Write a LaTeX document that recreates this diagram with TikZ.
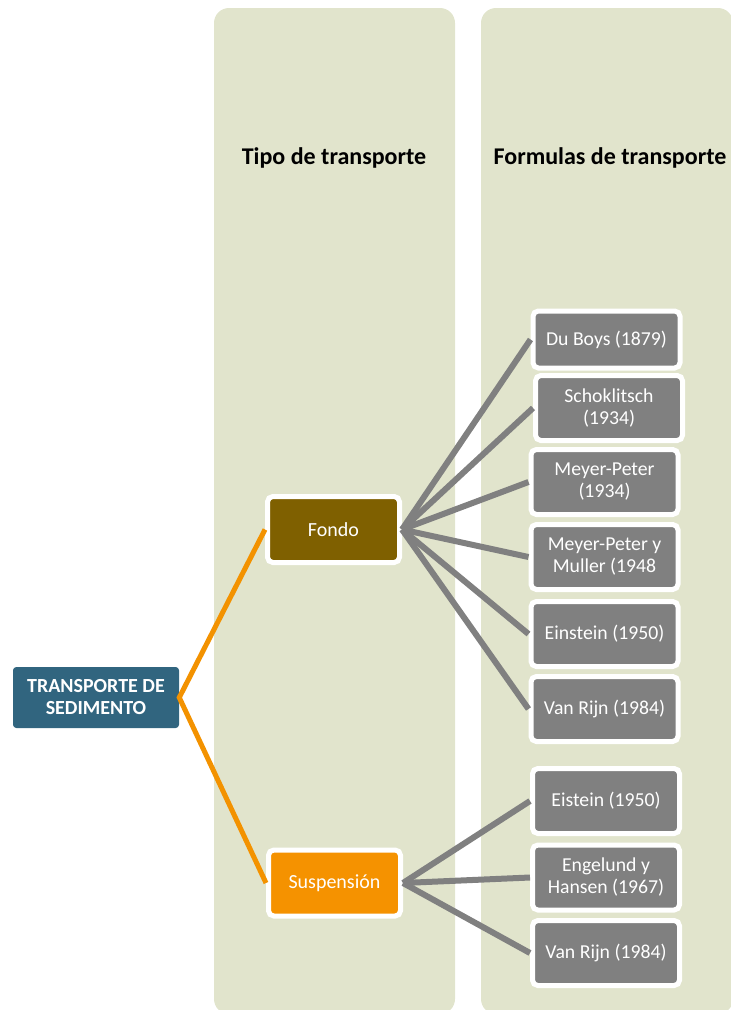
\documentclass[tikz,border=0pt]{standalone}
\usepackage{fontspec}
\setmainfont{Carlito}
\definecolor{colfill}{HTML}{E1E4CC}
\definecolor{rootblue}{HTML}{31657F}
\definecolor{bedbrown}{HTML}{7F6000}
\definecolor{susporange}{HTML}{F59200}
\definecolor{linkorange}{HTML}{F39200}
\definecolor{boxgray}{HTML}{808080}
\begin{document}
\begin{tikzpicture}[x=0.75pt,y=-0.75pt,
  column/.style={fill=colfill, rounded corners=11.25pt},
  heading/.style={font=\bfseries\fontsize{18}{21}\selectfont, text=black, inner sep=0pt},
  rootbox/.style={fill=rootblue, rounded corners=2.5pt, inner sep=0pt, align=center,
    minimum width=124.5pt, minimum height=45.75pt, text=white,
    font=\bfseries\fontsize{15}{16.5}\selectfont},
  typebox/.style={draw=white, line width=3.75pt, rounded corners=4pt, inner sep=0pt,
    minimum width=99pt, minimum height=49.5pt, text=white,
    font=\fontsize{15}{16.5}\selectfont},
  formbox/.style={draw=white, line width=3.75pt, fill=boxgray, rounded corners=4pt,
    inner sep=0pt, align=center, minimum width=110.25pt, minimum height=48.75pt,
    text=white, font=\fontsize{14.8}{16.5}\selectfont},
  typelink/.style={draw=linkorange, line width=3.75pt},
  formlink/.style={draw=boxgray, line width=4.5pt}
]
\useasboundingbox (0,0) rectangle (731,1010);

% column panels
\fill[column] (214,8) rectangle (455,1014);
\fill[column] (481,8) rectangle (733,1014);

% column headings
\node[heading] (h1) at (334,158) {Tipo de transporte};
\node[heading] (h2) at (610,158) {Formulas de transporte};

% root and transport types
\node[rootbox] (root) at (96,697.5) {TRANSPORTE DE\\SEDIMENTO};
\node[typebox, fill=bedbrown] (fondo) at (333.5,529.5) {Fondo};
\node[typebox, fill=susporange] (susp) at (334.5,883) {Suspensión};

% bed-load formulas
\node[formbox, minimum height=42.75pt] (dub) at (606.5,339.5) {Du Boys (1879)};
\node[formbox] (sch) at (609,408) {Schoklitsch\\(1934)};
\node[formbox] (mp) at (604.5,482) {Meyer-Peter\\(1934)};
\node[formbox] (mpm) at (604.5,557) {Meyer-Peter y\\Muller (1948};
\node[formbox] (ein) at (604.5,634) {Einstein (1950)};
\node[formbox] (vr1) at (604.5,709) {Van Rijn (1984)};

% suspended-load formulas
\node[formbox] (eis) at (606,801) {Eistein (1950)};
\node[formbox] (eng) at (606,877.5) {Engelund y\\Hansen (1967)};
\node[formbox] (vr2) at (606,953) {Van Rijn (1984)};

% connectors
\draw[typelink] (fondo.west) -- (root.east) -- (susp.west);
\foreach \t in {dub,sch,mp,mpm,ein,vr1}
  \draw[formlink] (fondo.east) -- (\t.west);
\foreach \t in {eis,eng,vr2}
  \draw[formlink] (susp.east) -- (\t.west);
\end{tikzpicture}
\end{document}
